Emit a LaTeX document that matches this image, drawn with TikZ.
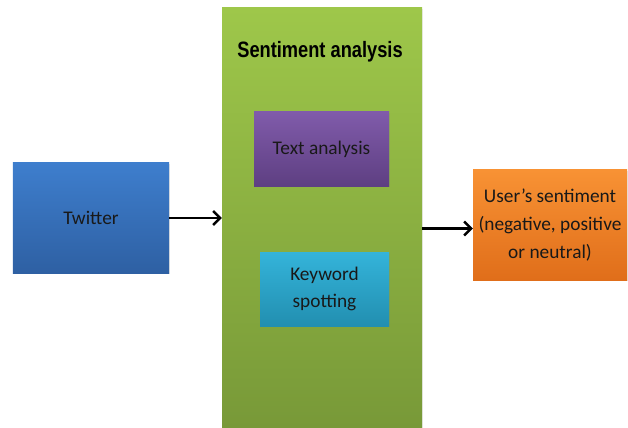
\documentclass[tikz,border=0pt]{standalone}
\usepackage{fontspec}
\setmainfont{Carlito}
\newfontfamily\headfont[FakeStretch=0.82]{Liberation Sans}
\usetikzlibrary{arrows.meta,positioning,shadows}

\begin{document}
\begin{tikzpicture}[x=0.03cm,y=-0.03cm,
        box/.style={rectangle, font=\fontsize{16.5}{23.5}\selectfont, text=black!90, align=center,
            drop shadow={opacity=0.2,shadow xshift=0.8pt,shadow yshift=-1pt}},
        flow/.style={-{Straight Barb[length=6pt,width=12pt,line width=2pt]}, line width=2.1pt}]
        \useasboundingbox (0,0) rectangle (628,427);
        % outer block
        \node[rectangle, top color={rgb,255:red,158;green,199;blue,74}, bottom color={rgb,255:red,120;green,153;blue,56},
            minimum width=6cm, minimum height=12.6cm, drop shadow={opacity=0.15,shadow xshift=0.8pt,shadow yshift=-1pt}] (sa) at (322,218) {};
        \node[font=\headfont\bfseries\fontsize{19}{22}\selectfont] (satitle) at (320,52) {Sentiment analysis};
        % inner blocks
        \node[box, top color={rgb,255:red,128;green,91;blue,170}, bottom color={rgb,255:red,94;green,63;blue,130},
            minimum width=4.05cm, minimum height=2.22cm] (textan) at (321.5,149) {Text analysis};
        \node[box, top color={rgb,255:red,52;green,180;blue,218}, bottom color={rgb,255:red,34;green,143;blue,176},
            minimum width=3.87cm, minimum height=2.22cm] (keyword) at (324.5,289) {Keyword\\spotting};
        % input and output
        \node[box, top color={rgb,255:red,62;green,126;blue,205}, bottom color={rgb,255:red,46;green,96;blue,163},
            minimum width=4.68cm, minimum height=3.3cm] (twitter) at (91,218) {Twitter};
        \node[box, top color={rgb,255:red,248;green,146;blue,52}, bottom color={rgb,255:red,224;green,110;blue,26},
            minimum width=4.62cm, minimum height=3.3cm] (usersent) at (550,225) {User’s sentiment\\(negative, positive\\or neutral)};
        \draw[flow] (twitter.east) -- (twitter.east -| sa.west);
        \draw[flow] ([yshift=-3]usersent.west -| sa.east) -- ([yshift=-3]usersent.west);
\end{tikzpicture}
\end{document}
